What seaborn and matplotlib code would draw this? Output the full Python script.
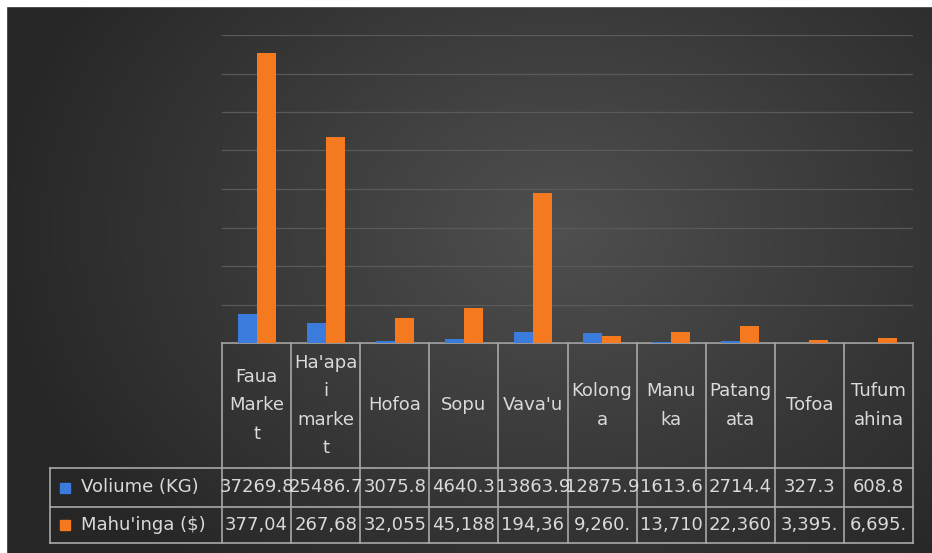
import numpy as np
import pandas as pd
import seaborn as sns
import matplotlib
matplotlib.use("agg")
import matplotlib.pyplot as plt
from matplotlib.lines import Line2D
from matplotlib.patches import Rectangle

markets = ["Faua Market", "Ha'apai market", "Hofoa", "Sopu", "Vava'u",
           "Kolonga", "Manuka", "Patangata", "Tofoa", "Tufumahina"]
# how excel wrapped the names inside the narrow table cells
market_labels = ["Faua\nMarke\nt", "Ha'apa\ni\nmarke\nt", "Hofoa", "Sopu", "Vava'u",
                 "Kolong\na", "Manu\nka", "Patang\nata", "Tofoa", "Tufum\nahina"]
volume_kg = [37269.8, 25486.7, 3075.8, 4640.3, 13863.9, 12875.9, 1613.6, 2714.4, 327.3, 608.8]
value_usd = [377040, 267680, 32055, 45188, 194360, 9260, 13710, 22360, 3395, 6695]
series_names = ["Voliume (KG)", "Mahu'inga ($)"]
series_colors = ["#3a7bdc", "#f5791f"]

df = pd.DataFrame({
    "market": markets * 2,
    "value": volume_kg + value_usd,
    "series": [series_names[0]] * len(markets) + [series_names[1]] * len(markets),
})

W, H = 932, 553
fig = plt.figure(figsize=(W / 100, H / 100), dpi=100)

# dark radial background like the excel style
bg = fig.add_axes([0, 0, 1, 1], zorder=0)
yy, xx = np.mgrid[0:H, 0:W]
r = np.hypot((xx - 560) / 540, (yy - 230) / 420)
shade = np.clip(0.31 - 0.15 * r, 0.15, 0.31)
bg.imshow(np.dstack([shade] * 3), extent=[0, W, H, 0], aspect="auto")
bg.add_patch(Rectangle((0, 0), W, 6, color="white"))
bg.add_patch(Rectangle((0, 0), 6, H, color="white"))
bg.set_xlim(0, W)
bg.set_ylim(H, 0)
bg.axis("off")

# plot area
x0, x1, y_base, y_top = 222, 913, 343, 35
ax = fig.add_axes([x0 / W, 1 - y_base / H, (x1 - x0) / W, (y_base - y_top) / H], zorder=1)
sns.barplot(data=df, x="market", y="value", hue="series", palette=series_colors,
            width=0.55, gap=0, saturation=1, legend=False, ax=ax)
ax.set_facecolor("none")
ax.set_xlim(-0.5, len(markets) - 0.5)
ax.set_ylim(0, 400000)
ax.set_yticks(range(0, 400001, 50000))
ax.yaxis.grid(True, color="#5a5a5a", lw=0.9)
ax.set_axisbelow(True)
ax.tick_params(left=False, bottom=False, labelleft=False, labelbottom=False)
ax.set_xlabel("")
ax.set_ylabel("")
for s in ax.spines.values():
    s.set_visible(False)

# data table under the chart
line_c = "#a8a8a8"
txt_c = "#dadada"
fs = 13
cw = (x1 - x0) / len(markets)
row_y = [343, 468, 507, 543]
leg_x = 50

def hline(y, xa, xb):
    bg.add_line(Line2D([xa, xb], [y, y], color=line_c, lw=1.2, zorder=3))

def vline(x, ya, yb):
    bg.add_line(Line2D([x, x], [ya, yb], color=line_c, lw=1.2, zorder=3))

hline(row_y[0], x0, x1)
for y in row_y[1:]:
    hline(y, leg_x, x1)
vline(leg_x, row_y[1], row_y[3])
for k in range(len(markets) + 1):
    vline(x0 + k * cw, row_y[0], row_y[3])

vol_labels = [f"{v:.1f}" for v in volume_kg]
usd_labels = [f"{v:,.2f}"[:6] for v in value_usd]
for i, lab in enumerate(market_labels):
    cx = x0 + (i + 0.5) * cw
    bg.text(cx, (row_y[0] + row_y[1]) / 2, lab, ha="center", va="center",
            color=txt_c, fontsize=fs, linespacing=1.75, multialignment="center", zorder=4)
    bg.text(cx, (row_y[1] + row_y[2]) / 2, vol_labels[i], ha="center", va="center",
            color=txt_c, fontsize=fs, zorder=4)
    bg.text(cx, (row_y[2] + row_y[3]) / 2, usd_labels[i], ha="center", va="center",
            color=txt_c, fontsize=fs, zorder=4)

for j, name in enumerate(series_names):
    cy = (row_y[j + 1] + row_y[j + 2]) / 2
    bg.add_patch(Rectangle((60, cy - 5), 10, 10, color=series_colors[j], zorder=4))
    bg.text(81, cy, name, ha="left", va="center", color=txt_c, fontsize=fs, zorder=4)

plt.savefig("out.png", dpi=100)
plt.close()
